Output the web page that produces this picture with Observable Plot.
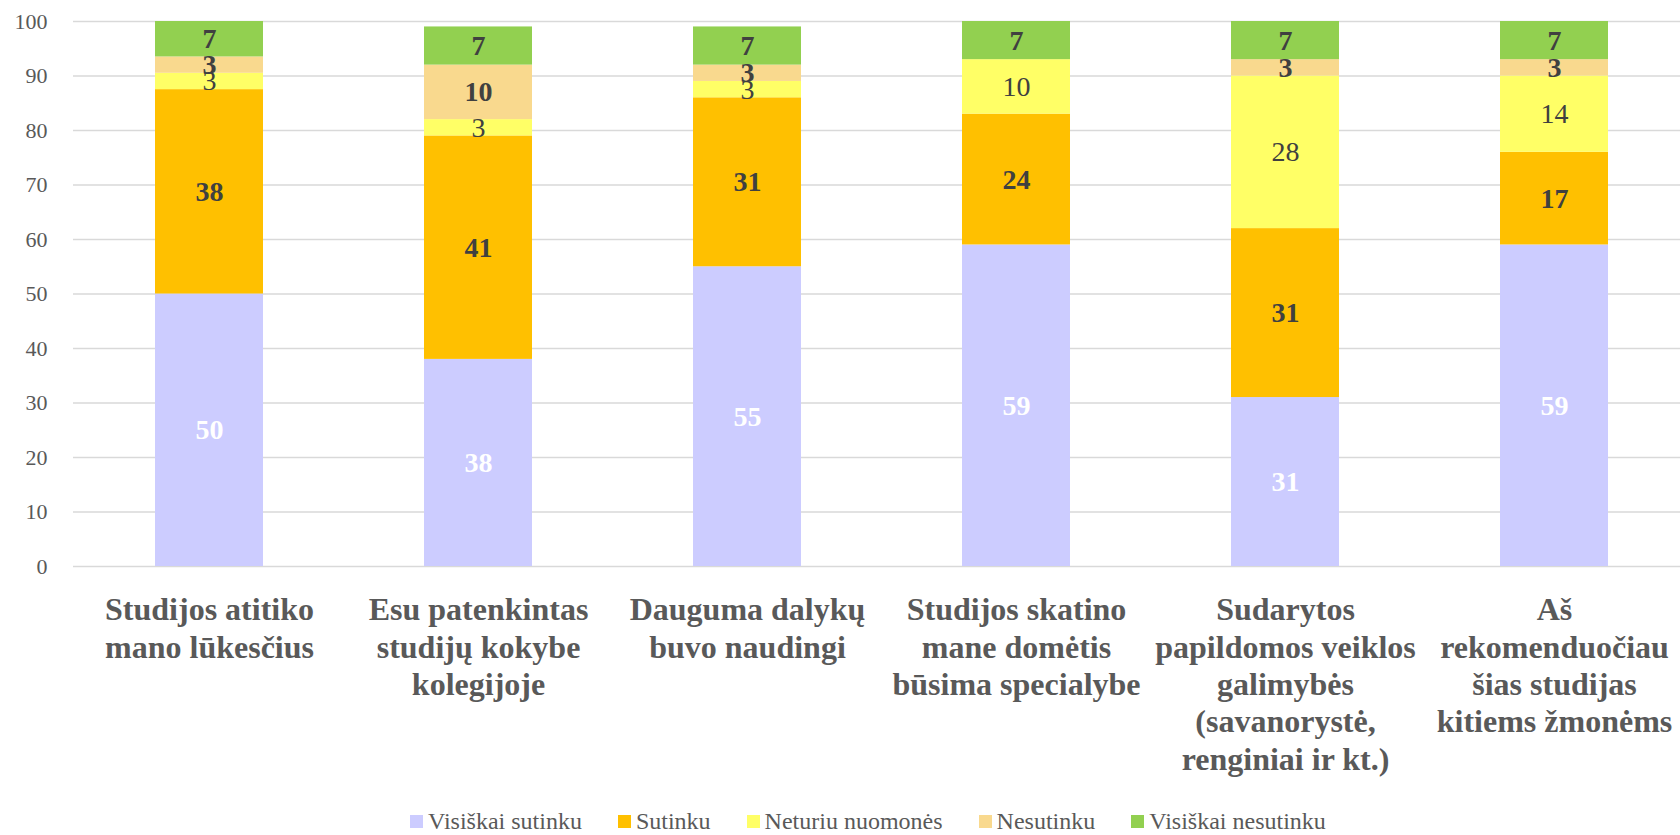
<!DOCTYPE html>
<html>
<head>
<meta charset="utf-8">
<script src="https://cdn.jsdelivr.net/npm/d3@7"></script>
<script src="https://cdn.jsdelivr.net/npm/@observablehq/plot@0.6"></script>
<style>
  html, body { margin: 0; padding: 0; background: #fff; }
  #wrap { position: relative; width: 1680px; height: 835px; font-family: "Liberation Serif", "Times New Roman", serif; }
  #legend { position: absolute; left: 410px; top: 808px; display: flex; align-items: center; font-size: 24px; color: #595959; white-space: nowrap; }
  .item { display: flex; align-items: center; margin-right: 36px; }
  .sw { width: 13px; height: 13px; margin-right: 5px; }
</style>
</head>
<body>
<div id="wrap">
  <div id="chart"></div>
  <div id="legend"></div>
</div>
<script>
const categories = [
  "Studijos atitiko\nmano lūkesčius",
  "Esu patenkintas\nstudijų kokybe\nkolegijoje",
  "Dauguma dalykų\nbuvo naudingi",
  "Studijos skatino\nmane domėtis\nbūsima specialybe",
  "Sudarytos\npapildomos veiklos\ngalimybės\n(savanorystė,\nrenginiai ir kt.)",
  "Aš\nrekomenduočiau\nšias studijas\nkitiems žmonėms"
];
const seriesNames = ["Visiškai sutinku", "Sutinku", "Neturiu nuomonės", "Nesutinku", "Visiškai nesutinku"];
const seriesColors = ["#CCCCFF", "#FFC000", "#FFFF66", "#F9D98E", "#92D050"];
const visiskaiSutinku   = [50, 38, 55, 59, 31, 59];
const sutinku           = [37.5, 41, 31, 24, 31, 17];
const neturiuNuomones   = [3, 3, 3, 10, 28, 14];
const nesutinku         = [3, 10, 3, 0, 3, 3];
const visiskaiNesutinku = [6.5, 7, 7, 7, 7, 7];
const yTicks = [0, 10, 20, 30, 40, 50, 60, 70, 80, 90, 100];

const seriesValues = [visiskaiSutinku, sutinku, neturiuNuomones, nesutinku, visiskaiNesutinku];
const data = [];
seriesNames.forEach((s, si) => {
  categories.forEach((c, ci) => {
    data.push({category: c, series: s, si, value: seriesValues[si][ci]});
  });
});

const labelStyles = [
  {group: [0], fill: "#ffffff", weight: "bold"},
  {group: [1, 3, 4], fill: "#404040", weight: "bold"},
  {group: [2], fill: "#404040", weight: "normal"}
];

const textMarks = labelStyles.map(st => Plot.text(data, Plot.stackY({
  x: "category",
  y: "value",
  z: "series",
  text: d => (st.group.includes(d.si) && d.value > 0) ? String(Math.round(d.value)) : "",
  fill: st.fill,
  fontWeight: st.weight,
  fontSize: 28,
  fontFamily: "Liberation Serif"
})));

const chart = Plot.plot({
  width: 1680,
  height: 805,
  marginLeft: 73,
  marginRight: 0,
  marginTop: 21,
  marginBottom: 239,
  style: {fontFamily: "Liberation Serif", background: "#fff"},
  x: {domain: categories, range: [72.5, 1689.5], paddingInner: 0.6, paddingOuter: 0.3, label: null},
  y: {domain: [0, 100], label: null},
  color: {domain: seriesNames, range: seriesColors},
  marks: [
    Plot.ruleY(yTicks, {stroke: "#d9d9d9", strokeWidth: 1.5}),
    Plot.barY(data, Plot.stackY({x: "category", y: "value", z: "series", fill: "series"})),
    ...textMarks,
    Plot.axisY({ticks: yTicks, tickSize: 0, tickPadding: 26, fontSize: 22, fill: "#595959", label: null}),
    Plot.axisX({tickSize: 0, tickPadding: 27, fontSize: 32, fontWeight: "bold", lineHeight: 1.17, fill: "#595959", label: null})
  ]
});
document.getElementById("chart").appendChild(chart);

const legend = document.getElementById("legend");
seriesNames.forEach((s, i) => {
  const it = document.createElement("div");
  it.className = "item";
  const sw = document.createElement("div");
  sw.className = "sw";
  sw.style.background = seriesColors[i];
  const tx = document.createElement("span");
  tx.textContent = s;
  it.appendChild(sw);
  it.appendChild(tx);
  legend.appendChild(it);
});
</script>
</body>
</html>
